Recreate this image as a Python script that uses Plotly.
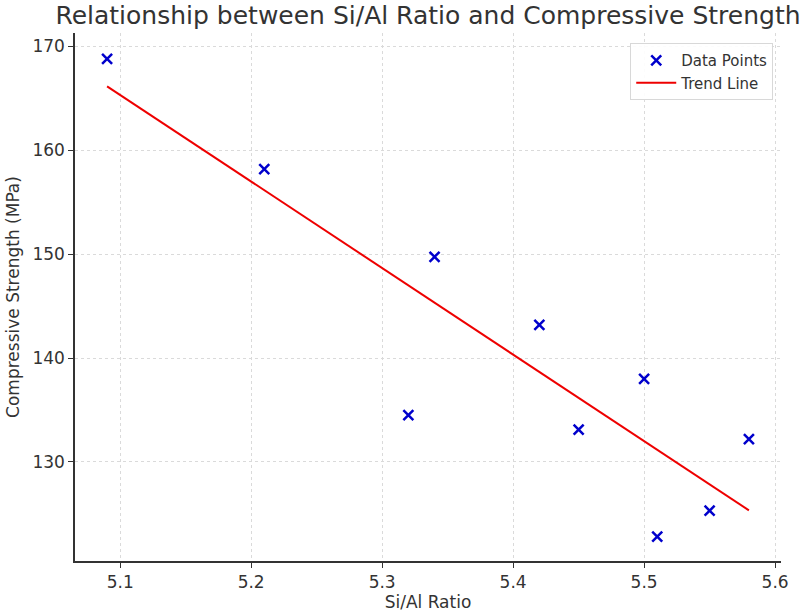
import numpy as np
import plotly.graph_objects as go

si_al_ratio = [5.09, 5.21, 5.32, 5.34, 5.42, 5.45, 5.50, 5.51, 5.55, 5.58]
compressive_strength = [168.8, 158.2, 134.5, 149.75, 143.2, 133.1, 138.0, 122.8, 125.3, 132.2]
x_ticks = [5.1, 5.2, 5.3, 5.4, 5.5, 5.6]
y_ticks = [130, 140, 150, 160, 170]

slope, intercept = np.polyfit(si_al_ratio, compressive_strength, 1)
trend_x = [min(si_al_ratio), max(si_al_ratio)]
trend_y = [slope * v + intercept for v in trend_x]

font_family = "DejaVu Sans, sans-serif"

fig = go.Figure()
fig.add_trace(go.Scatter(
    x=si_al_ratio, y=compressive_strength, mode="markers", name="Data Points",
    marker=dict(symbol="x-thin", size=10, line=dict(width=2.5, color="#0000cc"), color="#0000cc"),
))
fig.add_trace(go.Scatter(
    x=trend_x, y=trend_y, mode="lines", name="Trend Line",
    line=dict(color="#ee0000", width=2),
))

axis_common = dict(
    showgrid=True, gridcolor="#dadada", griddash="dot", gridwidth=1,
    showline=True, linecolor="#333333", linewidth=1.5,
    ticks="outside", ticklen=5, tickcolor="#333333", tickwidth=1.2,
    zeroline=False, mirror=False, automargin=False,
    tickfont=dict(size=17, color="#333333", family=font_family),
)

fig.update_layout(
    width=807, height=612,
    margin=dict(l=75, r=26, t=33, b=51),
    paper_bgcolor="white", plot_bgcolor="white",
    font=dict(family=font_family, color="#333333"),
    title=dict(text="Relationship between Si/Al Ratio and Compressive Strength",
               xref="paper", x=0.5, xanchor="center", yref="container", y=0.99, yanchor="top",
               font=dict(size=25, color="#333333", family=font_family)),
    xaxis=dict(range=[5.0655, 5.6045], tickvals=x_ticks,
               title=dict(text="Si/Al Ratio", font=dict(size=17), standoff=6),
               **axis_common),
    yaxis=dict(range=[120.46, 171.3], tickvals=y_ticks,
               title=dict(text="Compressive Strength (MPa)", font=dict(size=17), standoff=8),
               **axis_common),
    legend=dict(x=0.989, y=0.981, xanchor="right", yanchor="top",
                bgcolor="rgba(255,255,255,0.9)", bordercolor="#d8d8d8", borderwidth=1,
                font=dict(size=15, color="#333333", family=font_family),
                tracegroupgap=0, itemwidth=40),
    showlegend=True,
)

fig.write_html("out.html")
